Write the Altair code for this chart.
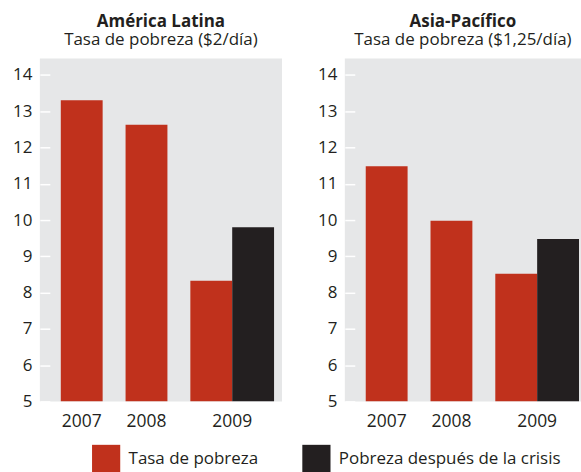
import altair as alt
import pandas as pd

years = ["2007", "2008", "2009"]
series_names = ["Tasa de pobreza", "Pobreza después de la crisis"]

latam_tasa = [13.3, 12.63, 8.33]
latam_crisis = [None, None, 9.8]
asia_tasa = [11.48, 9.98, 8.52]
asia_crisis = [None, None, 9.48]

y_ticks = [5, 6, 7, 8, 9, 10, 11, 12, 13, 14]

RED = "#C0311C"
BLACK = "#231F20"
GRAY = "#E6E7E8"
TEXT = "#231F20"
FONT = "Open Sans"

W = 42 / 65.0  # bar width in slot units


def build_df(tasa, crisis):
    rows = []
    for i, yr in enumerate(years):
        vals = [tasa[i], crisis[i]]
        for k, v in enumerate(vals):
            if v is None:
                continue
            start = i + k * W
            rows.append({"year": yr, "series": series_names[k], "value": v,
                         "x0": start, "x1": start + W})
    df = pd.DataFrame(rows)
    lab = df.groupby("year").agg(lo=("x0", "min"), hi=("x1", "max")).reset_index()
    lab["xc"] = (lab["lo"] + lab["hi"]) / 2
    return df, lab


def panel(tasa, crisis, title, subtitle, width, xmax):
    df, lab = build_df(tasa, crisis)
    xs = alt.Scale(domain=[-21 / 65.0, xmax], nice=False, zero=False)
    ys = alt.Scale(domain=[5, 14.45], nice=False, zero=False)
    bars = alt.Chart(df).mark_bar(clip=True).encode(
        x=alt.X("x0:Q", scale=xs, axis=None),
        x2="x1:Q",
        y=alt.Y("value:Q", scale=ys,
                axis=alt.Axis(values=y_ticks, title=None, grid=False, domain=False,
                              tickColor="white", tickSize=10, tickWidth=1.5, offset=-10,
                              labelPadding=8, labelFontSize=17, labelFont=FONT,
                              labelColor=TEXT)),
        y2=alt.datum(5),
        color=alt.Color("series:N",
                        scale=alt.Scale(domain=series_names, range=[RED, BLACK]),
                        legend=alt.Legend(title=None, orient="none", direction="horizontal",
                                          legendX=52, legendY=387,
                                          symbolType="square", symbolSize=800,
                                          symbolStrokeWidth=0, symbolOpacity=1,
                                          labelFontSize=17, labelFont=FONT,
                                          labelColor=TEXT, labelOffset=8,
                                          labelLimit=0, columnPadding=43)),
    )
    labels = alt.Chart(lab).mark_text(fontSize=17.5, font=FONT, color=TEXT,
                                      baseline="alphabetic", align="center").encode(
        x=alt.X("xc:Q", scale=xs),
        y=alt.value(344 + 26),
        text="year:N",
    )
    return alt.layer(bars, labels).properties(
        width=width, height=344,
        title=alt.TitleParams(text=title, subtitle=subtitle, fontSize=17,
                              fontWeight="bold", font=FONT, color=TEXT,
                              subtitleFont=FONT, subtitleFontSize=17,
                              subtitleColor=TEXT, subtitlePadding=1,
                              anchor="middle", offset=10),
    )


left = panel(latam_tasa, latam_crisis, "América Latina", "Tasa de pobreza ($2/día)",
             243, (243 - 21) / 65.0)
right = panel(asia_tasa, asia_crisis, "Asia-Pacífico", "Tasa de pobreza ($1,25/día)",
              237, (237 - 21) / 65.0)

chart = alt.hconcat(left, right, spacing=35).configure_view(
    fill=GRAY, stroke=None
).properties(
    padding={"left": 12, "top": 12, "right": 0, "bottom": 0},
    background="white",
)

chart.save("out.html", embed_options={"renderer": "svg", "actions": False})
